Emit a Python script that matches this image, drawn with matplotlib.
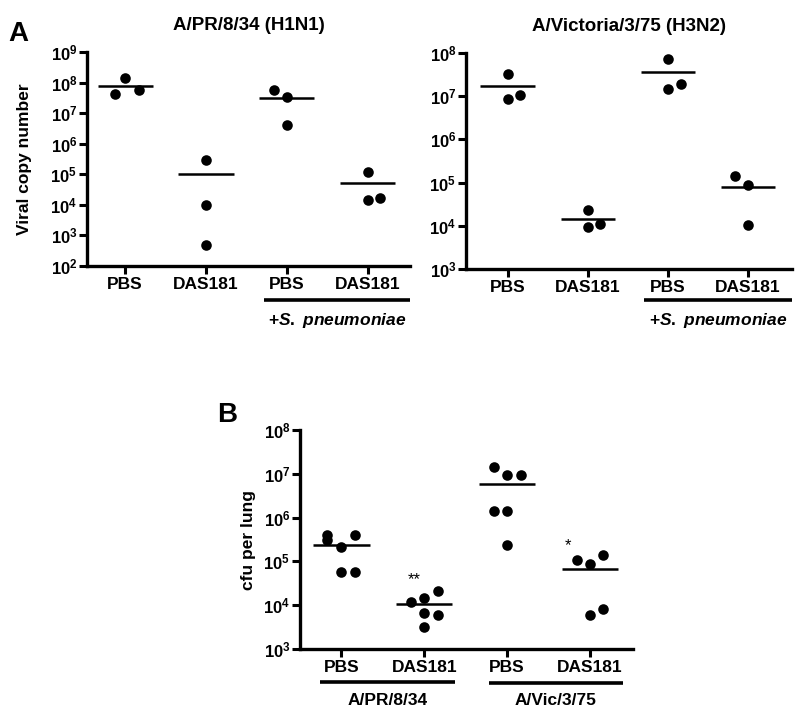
import numpy as np
import matplotlib
matplotlib.use('Agg')
import matplotlib.pyplot as plt
from matplotlib.ticker import LogLocator, FuncFormatter
import matplotlib.transforms as mtransforms

plt.rcParams['font.family'] = ['Liberation Sans', 'DejaVu Sans']
plt.rcParams['font.weight'] = 'bold'
plt.rcParams['mathtext.fontset'] = 'custom'
plt.rcParams['mathtext.rm'] = 'Liberation Sans:bold'
plt.rcParams['mathtext.it'] = 'Liberation Sans:bold:italic'
plt.rcParams['mathtext.bf'] = 'Liberation Sans:bold'

groups = ['PBS', 'DAS181', 'PBS', 'DAS181']

# panel A, A/PR/8/34 (H1N1): viral copy number per mouse
h1n1_vals = [[1.4e8, 4.2e7, 5.6e7],
             [3.0e5, 1.0e4, 5.0e2],
             [5.6e7, 3.3e7, 4.0e6],
             [1.2e5, 1.45e4, 1.7e4]]
h1n1_jit = [[0, -0.12, 0.17], [0, 0, 0], [-0.16, 0, 0], [0, 0, 0.15]]
h1n1_mean = [7.6e7, 1.05e5, 3.1e7, 5.0e4]

# panel A, A/Victoria/3/75 (H3N2)
h3n2_vals = [[3.3e7, 8.6e6, 1.07e7],
             [2.3e4, 9.3e3, 1.1e4],
             [7.4e7, 1.45e7, 1.9e7],
             [1.4e5, 8.7e4, 1.05e4]]
h3n2_jit = [[0, 0, 0.16], [0, 0, 0.15], [0, 0, 0.16], [-0.16, 0, 0]]
h3n2_mean = [1.7e7, 1.44e4, 3.7e7, 7.9e4]

# panel B: cfu per lung
cfu_vals = [[4.0e5, 3.1e5, 4.0e5, 2.1e5, 5.8e4, 5.8e4],
            [1.2e4, 1.45e4, 2.1e4, 6.6e3, 6.0e3, 3.2e3],
            [1.4e7, 9.3e6, 9.3e6, 1.4e6, 1.4e6, 2.35e5],
            [1.07e5, 8.7e4, 1.4e5, 6.0e3, 8.1e3]]
cfu_jit = [[-0.17, -0.17, 0.16, 0, 0, 0.16],
           [-0.16, 0, 0.16, 0, 0.16, 0],
           [-0.16, 0, 0.17, -0.16, 0, 0],
           [-0.16, 0, 0.16, 0, 0.16]]
cfu_mean = [2.35e5, 1.07e4, 5.9e6, 6.7e4]
cfu_stars = ['', '**', '', '*']
cfu_star_y = [None, 3.8e4, None, 2.3e5]

spn = r'+$\it{S.}$ $\it{pneumoniae}$'


def log_fmt(v, pos):
    return r'$10^{%d}$' % int(round(np.log10(v)))


def dot_plot(ax, vals, jit, means, ylim):
    for i, (v, j) in enumerate(zip(vals, jit)):
        ax.scatter(np.array(j) + i, v, s=58, color='black', zorder=3,
                   clip_on=False, linewidths=0)
        ax.plot([i - 0.34, i + 0.34], [means[i], means[i]], color='black',
                lw=1.8, solid_capstyle='butt')
    ax.set_yscale('log')
    ax.set_ylim(*ylim)
    ax.set_xlim(-0.5, 3.52)
    ax.yaxis.set_major_locator(LogLocator(base=10, numticks=20))
    ax.yaxis.set_minor_locator(plt.NullLocator())
    ax.yaxis.set_major_formatter(FuncFormatter(log_fmt))
    ax.set_xticks(range(len(groups)))
    ax.set_xticklabels(groups, fontsize=12.5, fontweight='bold')
    for s in ['top', 'right']:
        ax.spines[s].set_visible(False)
    for s in ['left', 'bottom']:
        ax.spines[s].set_linewidth(2.4)
    ax.tick_params(axis='both', direction='out', length=6, width=2.2)
    ax.tick_params(axis='x', pad=2)
    ax.tick_params(axis='y', pad=1, labelsize=12)


def bracket(ax, x0, x1, y, label, ty):
    tr = mtransforms.blended_transform_factory(ax.transData, ax.transAxes)
    ax.plot([x0, x1], [y, y], color='black', lw=2.6, transform=tr,
            clip_on=False, solid_capstyle='butt')
    ax.text((x0 + x1) / 2, ty, label, transform=tr, ha='center', va='center',
            fontsize=12.5, fontweight='bold')


fig = plt.figure(figsize=(8, 7.15), dpi=100)

ax1 = fig.add_axes([0.10875, 0.6280, 0.40375, 0.2993])
dot_plot(ax1, h1n1_vals, h1n1_jit, h1n1_mean, (1e2, 1e9))
ax1.set_xlim(-0.47, 3.52)
ax1.set_title('A/PR/8/34 (H1N1)', fontsize=13.5, fontweight='bold', pad=16)
ax1.set_ylabel('Viral copy number', fontsize=12.5, fontweight='bold', labelpad=13)
bracket(ax1, 1.72, 3.52, -0.159, spn, -0.255)

ax2 = fig.add_axes([0.5825, 0.6238, 0.4075, 0.3021])
dot_plot(ax2, h3n2_vals, h3n2_jit, h3n2_mean, (1e3, 1e8))
ax2.set_xlim(-0.52, 3.55)
ax2.set_title('A/Victoria/3/75 (H3N2)', fontsize=13.5, fontweight='bold', pad=16)
bracket(ax2, 1.7, 3.55, -0.144, spn, -0.24)

ax3 = fig.add_axes([0.375, 0.0923, 0.41625, 0.3063])
dot_plot(ax3, cfu_vals, cfu_jit, cfu_mean, (1e3, 1e8))
ax3.set_ylabel('cfu per lung', fontsize=12.5, fontweight='bold', labelpad=5)
for i, st in enumerate(cfu_stars):
    if st:
        ax3.text(i - 0.12 if st == '**' else i - 0.26, cfu_star_y[i], st,
                 ha='center', va='center', fontsize=12, fontweight='normal')
bracket(ax3, -0.26, 1.37, -0.151, 'A/PR/8/34', -0.233)
bracket(ax3, 1.78, 3.4, -0.156, 'A/Vic/3/75', -0.233)

fig.text(0.01, 0.953, 'A', fontsize=20, fontweight='bold', va='center')
fig.text(0.272, 0.42, 'B', fontsize=20, fontweight='bold', va='center')

fig.savefig('out.png', dpi=100)
